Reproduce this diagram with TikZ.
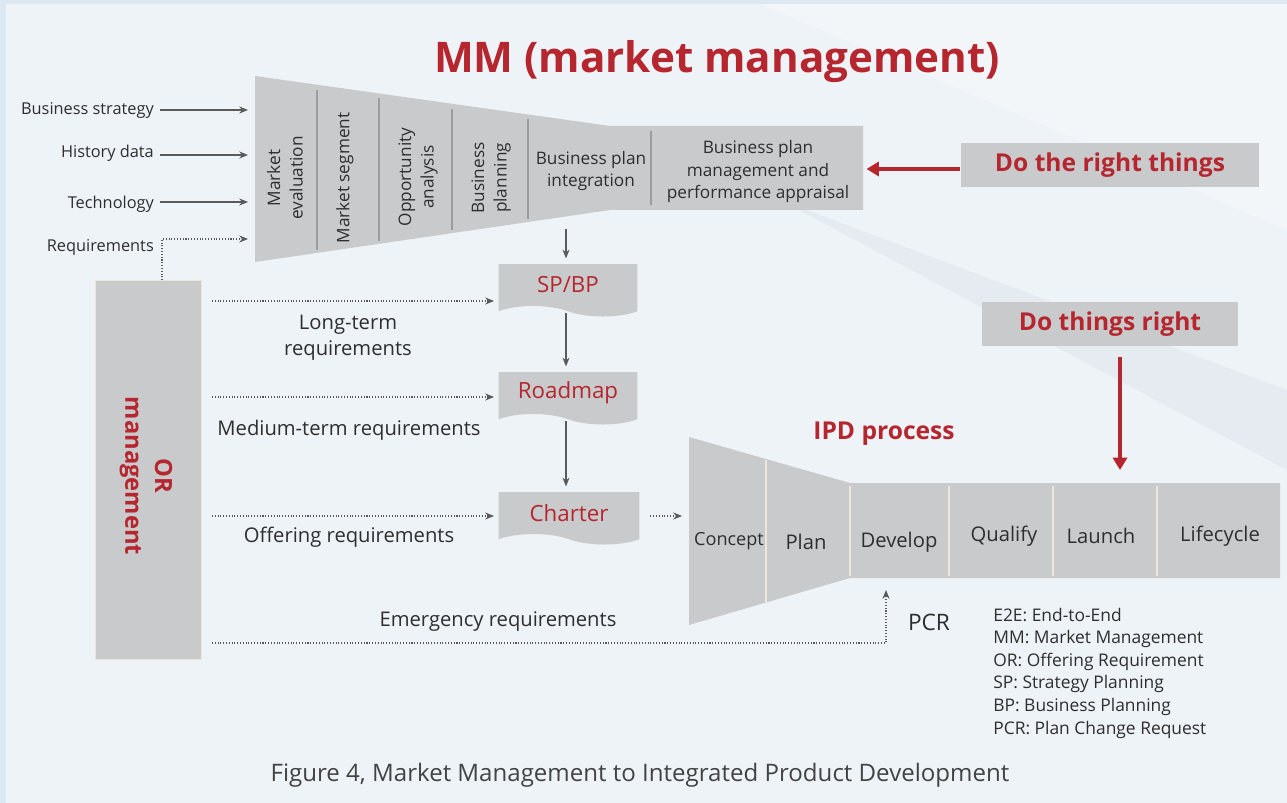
\documentclass[tikz,border=0pt]{standalone}
\usepackage{fontspec}
\setmainfont{Open Sans}
\usepackage{tikz}
\usetikzlibrary{arrows.meta,positioning,shapes.symbols}

\definecolor{bgblue}{HTML}{EEF3F8}
\definecolor{bgedge}{HTML}{DCE8F1}
\definecolor{bgshade}{HTML}{E6EBF1}
\definecolor{boxgray}{HTML}{C9CACC}
\definecolor{mmred}{HTML}{B5262E}
\definecolor{txt}{HTML}{2E2E2E}
\definecolor{arrgray}{HTML}{5A5A5A}
\definecolor{divgray}{HTML}{9C9C9C}
\definecolor{divcream}{HTML}{ECE7D8}

\begin{document}
\begin{tikzpicture}[x=0.02cm,y=-0.02cm,
            lab/.style={font=\fontsize{9.3}{11}\selectfont,text=txt,anchor=east},
            req/.style={font=\fontsize{11.5}{15}\selectfont,text=txt,align=center},
            stage/.style={font=\fontsize{9.8}{12.8}\selectfont,text=txt,align=center},
            phase/.style={font=\fontsize{11.5}{14}\selectfont,text=txt},
            doc/.style={tape,tape bend top=none,tape bend bottom=out and in,tape bend height=6pt,
              fill=boxgray,text=mmred,minimum width=2.78cm,minimum height=1.05cm,
              font=\fontsize{12.7}{15}\selectfont},
            banner/.style={fill=boxgray,text=mmred,font=\bfseries\fontsize{14}{17}\selectfont},
            legend/.style={font=\fontsize{9.9}{12}\selectfont,text=txt,anchor=base west,inner sep=0pt},
            feed/.style={draw=arrgray,semithick,-{Stealth[length=5pt,width=4pt]}},
            dots/.style={feed,densely dotted},
            push/.style={draw=mmred,line width=2.2pt,-{Triangle[length=7pt,width=8pt]}}
          ]
          % background
          \fill[bgedge] (0,0) rectangle (1287,803);
          \fill[bgblue] (6,4) rectangle (1287,803);
          \fill[bgshade] (780,200) -- (1287,390) -- (1287,470) -- cycle;
          \fill[white,opacity=.25] (760,4) -- (1287,4) -- (1287,230) -- cycle;
          \useasboundingbox (0,0) rectangle (1287,803);

          \node[text=mmred,font=\bfseries\fontsize{24}{28}\selectfont] (title) at (717,62) {MM (market management)};

          %MM funnel
          \fill[boxgray] (255,76) -- (610,126) -- (863,126) -- (863,210) -- (610,210) -- (255,262) -- cycle;
          \foreach \x in {317,379,452,528}
            \draw[divgray,line width=1.1pt] (\x,{76+(\x-255)*50/355+5}) -- (\x,{262-(\x-255)*52/355-3});
          \draw[divgray,line width=1.1pt] (651,131) -- (651,205);
          \coordinate (mmbase) at (566,229);
          \coordinate (mmright) at (863,169);

          \node[stage,rotate=90] (meval) at (285,178) {Market\\evaluation};
          \node[stage,rotate=90] (mseg) at (345,178) {Market segment};
          \node[stage,rotate=90] (opp) at (418,177) {Opportunity\\analysis};
          \node[stage,rotate=90] (bplan) at (491,178) {Business\\planning};
          \node[stage] (bpint) at (591,171) {Business plan\\integration};
          \node[stage] (bpmgmt) at (758,172) {Business plan\\management and\\performance appraisal};

          %inputs
          \node[lab] (strat) at (160,110) {Business strategy};
          \node[lab] (hist) at (160,153) {History data};
          \node[lab] (tech) at (160,204) {Technology};
          \node[lab] (reqs) at (160,247) {Requirements};
          \coordinate (in1) at (248,110);
          \coordinate (in2) at (248,155);
          \coordinate (in3) at (248,202);
          \coordinate (in4) at (248,239);
          \draw[feed] (strat.east |- in1) -- (in1);
          \draw[feed] (hist.east |- in2) -- (in2);
          \draw[feed] (tech.east |- in3) -- (in3);

          %OR management
          \node[fill=boxgray,draw=divcream,minimum width=2.12cm,minimum height=7.58cm,inner sep=0pt] (orm) at (148,470) {};
          \node[rotate=-90,text=mmred,align=center,font=\bfseries\fontsize{13.5}{17}\selectfont] (ormlab) at (146,476) {OR\\management};
          \draw[dots] ([xshift=0.28cm]orm.north) |- (in4);

          %documents
          \node[doc] (sp) at (568,285) {SP/BP};
          \node[doc] (road) at (568,393) {Roadmap};
          \node[doc,minimum width=2.82cm] (charter) at (569,513) {Charter};
          \draw[feed] (mmbase) -- ([yshift=3pt]mmbase |- sp.north);
          \draw[feed,shorten <=4pt,shorten >=3pt] (mmbase |- sp.south) -- (mmbase |- road.north);
          \draw[feed,shorten <=4pt,shorten >=3pt] (mmbase |- road.south) -- (mmbase |- charter.north);

          %requirements
          \coordinate (tosp) at (494,301);
          \coordinate (toroad) at (494,397);
          \coordinate (tocharter) at (494,516);
          \coordinate (pcrup) at (886,590);
          \draw[dots,shorten <=6pt] (orm.east |- tosp) -- (tosp);
          \draw[dots,shorten <=6pt] (orm.east |- toroad) -- (toroad);
          \draw[dots,shorten <=6pt] (orm.east |- tocharter) -- (tocharter);
          \draw[dots,shorten <=6pt] (orm.east |- 0,643) -| (pcrup);
          \node[req] (longreq) at (348,338) {Long-term\\requirements};
          \node[req] (medreq) at (349,430) {Medium-term requirements};
          \node[req] (offreq) at (349,537) {Offering requirements};
          \node[req] (emreq) at (498,622) {Emergency requirements};

          %IPD funnel
          \fill[boxgray] (689,437) -- (850,483) -- (1280,483) -- (1280,578) -- (850,578) -- (689,625) -- cycle;
          \draw[divcream,line width=1pt] (766,460) -- (766,602);
          \foreach \x in {850,949,1053,1157}
            \draw[divcream,line width=1pt] (\x,486) -- (\x,576);
          \coordinate (ipdin) at (682,516);
          \draw[dots,shorten <=6pt] (charter.east |- ipdin) -- (ipdin);

          \node[phase,font=\fontsize{10.3}{12}\selectfont] (concept) at (729,541) {Concept};
          \node[phase] (plan) at (806,542) {Plan};
          \node[phase] (dev) at (899,542) {Develop};
          \node[phase] (qual) at (1004,536) {Qualify};
          \node[phase] (launch) at (1101,536) {Launch};
          \node[phase] (life) at (1220,536) {Lifecycle};
          \node[text=mmred,font=\bfseries\fontsize{14}{17}\selectfont] (ipd) at (884,434) {IPD process};

          %right things
          \node[banner,minimum width=5.98cm,minimum height=0.88cm] (rightthings) at (1110,165) {Do the right things};
          \node[banner,minimum width=5.12cm,minimum height=0.9cm] (thingsright) at (1110,324) {Do things right};
          \coordinate (launchtop) at (1120,470);
          \draw[push] (rightthings.west |- mmright) -- ([xshift=2pt]mmright);
          \draw[push,shorten <=6pt] (launchtop |- thingsright.south) -- (launchtop);

          %legend
          \node[font=\fontsize{12.9}{15}\selectfont,text=txt] (pcr) at (929,622) {PCR};
          \foreach \t [count=\i] in {E2E: End-to-End,MM: Market Management,OR: Offering Requirement,
                                     SP: Strategy Planning,BP: Business Planning,PCR: Plan Change Request}
            \node[legend] (leg\i) at (993,{621+(\i-1)*22.6}) {\t};

          \node[font=\fontsize{13.7}{16}\selectfont,text=txt!90] (caption) at (640,775) {Figure 4, Market Management to Integrated Product Development};
      \end{tikzpicture}
\end{document}
